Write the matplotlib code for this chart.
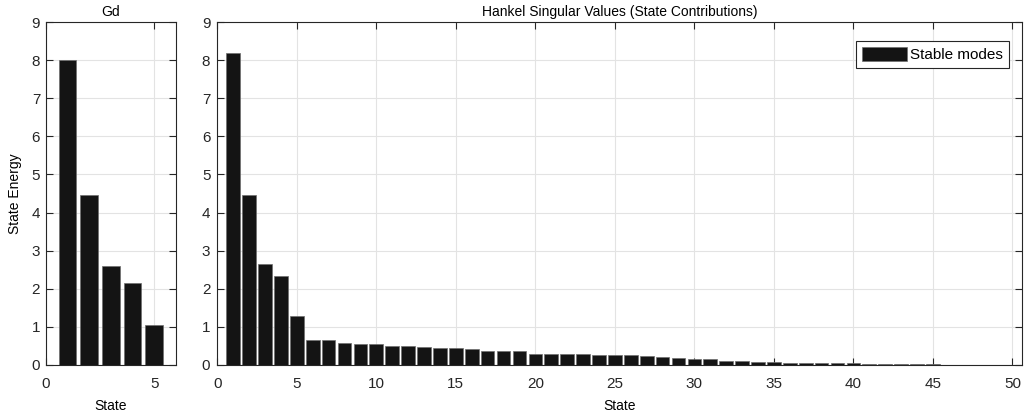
import numpy as np
import matplotlib
matplotlib.use("Agg")
import matplotlib.pyplot as plt

# Gd state energies (left panel)
gd_states = [1, 2, 3, 4, 5]
gd_energy = [8.0, 4.47, 2.61, 2.14, 1.05]

# Hankel singular values of the full model (right panel)
hsv = [8.18, 4.45, 2.64, 2.33, 1.29, 0.66, 0.66, 0.585, 0.55, 0.55,
       0.51, 0.50, 0.48, 0.455, 0.45, 0.43, 0.38, 0.36, 0.36, 0.30,
       0.29, 0.28, 0.28, 0.27, 0.27, 0.25, 0.24, 0.21, 0.19, 0.17,
       0.145, 0.11, 0.11, 0.09, 0.09, 0.06, 0.06, 0.05, 0.045, 0.045,
       0.03, 0.025, 0.02, 0.02, 0.015, 0.01, 0.01, 0.005, 0.005, 0.003]
hsv_states = np.arange(1, len(hsv) + 1)

bar_color = "#141414"
edge_color = "#6e6e6e"

plt.rcParams['font.family'] = ['Liberation Sans', 'DejaVu Sans']
plt.rcParams['font.size'] = 10

fig = plt.figure(figsize=(10.24, 4.18), dpi=100)
W, H = 1024, 418
ax1 = fig.add_axes([45.7 / W, 1 - 365 / H, (176 - 45.7) / W, (365 - 22) / H])
ax2 = fig.add_axes([217.3 / W, 1 - 365 / H, (1022 - 217.3) / W, (365 - 22) / H])


def style(ax, ypad):
    ax.grid(True, color="#e3e3e3", linewidth=0.8)
    ax.set_axisbelow(True)
    ax.tick_params(direction="in", length=5, width=0.8, top=True, right=True,
                   colors="#262626", labelsize=11)
    ax.tick_params(axis="x", pad=8.5)
    ax.tick_params(axis="y", pad=ypad)
    for s in ax.spines.values():
        s.set_linewidth(0.8)
        s.set_color("#262626")


ax1.bar(gd_states, gd_energy, width=0.82, color=bar_color, edgecolor=edge_color, linewidth=0.5)
ax1.set_xlim(0, 6)
ax1.set_ylim(0, 9)
ax1.set_xticks([0, 5])
ax1.set_yticks(range(0, 10))
ax1.set_title("Gd", fontsize=10, pad=4)
ax1.set_xlabel("State", fontsize=10, labelpad=6)
ax1.set_ylabel("State Energy", fontsize=10, labelpad=7)
style(ax1, 4)

ax2.bar(hsv_states, hsv, width=0.86, color=bar_color, edgecolor=edge_color,
        linewidth=0.5, label="Stable modes")
ax2.set_xlim(0, 50.6)
ax2.set_ylim(0, 9)
ax2.set_xticks(range(0, 51, 5))
ax2.set_yticks(range(0, 10))
ax2.set_title("Hankel Singular Values (State Contributions)", fontsize=10, pad=4)
ax2.set_xlabel("State", fontsize=10, labelpad=6)
style(ax2, 5)
leg = ax2.legend(loc="upper right", bbox_to_anchor=(1008.7 / W, 1 - 41.3 / H),
                 bbox_transform=fig.transFigure, fontsize=11, fancybox=False,
                 framealpha=1, edgecolor="#262626", handlelength=2.95,
                 handleheight=1.1, borderpad=0.35, handletextpad=0.25,
                 borderaxespad=0)
leg.get_frame().set_linewidth(0.8)

fig.savefig("out.png", dpi=100)
